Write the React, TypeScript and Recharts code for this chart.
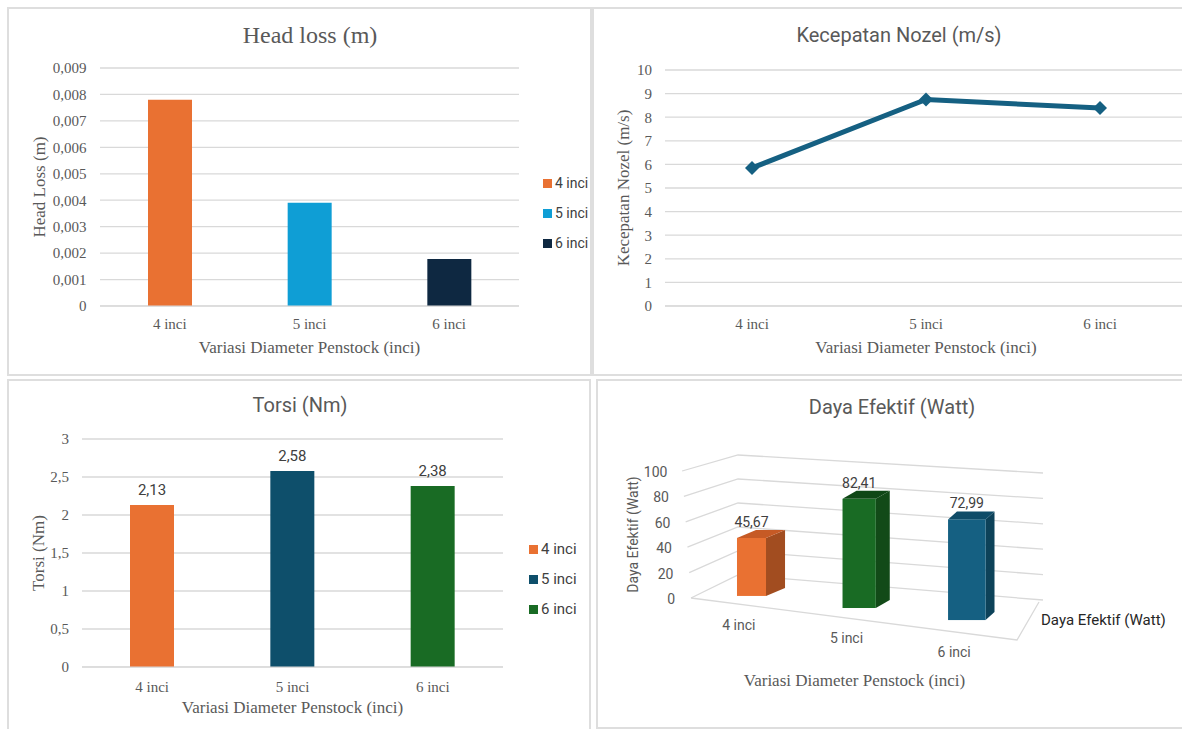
import React from "react";
import {
  BarChart,
  Bar,
  LineChart,
  Line,
  XAxis,
  YAxis,
  CartesianGrid,
  Cell,
  LabelList,
  Legend,
} from "recharts";

const categories = ["4 inci", "5 inci", "6 inci"];

const headLoss = [0.0078, 0.0039, 0.00178];
const headLossTicks = [0, 0.001, 0.002, 0.003, 0.004, 0.005, 0.006, 0.007, 0.008, 0.009];

const kecepatan = [5.85, 8.75, 8.39];
const kecepatanTicks = [0, 1, 2, 3, 4, 5, 6, 7, 8, 9, 10];

const torsi = [2.13, 2.58, 2.38];
const torsiTicks = [0, 0.5, 1, 1.5, 2, 2.5, 3];

const daya = [45.67, 82.41, 72.99];
const dayaTicks = [0, 20, 40, 60, 80, 100];

const headLossColors = ["#E97132", "#0F9ED5", "#0E2841"];
const torsiColors = ["#E97132", "#0E4F6B", "#196B24"];
const dayaFront = ["#E97132", "#196B24", "#156082"];
const dayaSide = ["#A24D20", "#124A18", "#0D4259"];
const dayaTop = ["#C65A25", "#0F4716", "#0F4C68"];

const SERIF = '"Liberation Serif", "Times New Roman", serif';
const SANS = 'Roboto, "Liberation Sans", sans-serif';
const GRAY = "#595959";
const GRID = "#D9D9D9";

const comma = (v: number) => String(v).replace(".", ",");

const headLossData = categories.map((name, i) => ({ name, value: headLoss[i] }));
const kecepatanData = categories.map((name, i) => ({ name, value: kecepatan[i] }));
const torsiData = categories.map((name, i) => ({ name, value: torsi[i] }));
const dayaData = categories.map((name, i) => ({ name, value: daya[i] }));

function Title({ text, x, y, font, size }: { text: string; x: number; y: number; font: string; size: number }) {
  return (
    <div
      style={{
        position: "absolute",
        left: x,
        top: y,
        transform: "translate(-50%, -50%)",
        fontFamily: font,
        fontSize: size,
        color: GRAY,
        whiteSpace: "nowrap",
      }}
    >
      {text}
    </div>
  );
}

const yTitle = (text: string, cx: number, font: string, size: number) => (props: any) => {
  const vb = props.viewBox || { x: 0, y: 0, width: 0, height: 0 };
  const cy = vb.y + vb.height / 2;
  return (
    <text
      x={cx}
      y={cy}
      transform={`rotate(-90 ${cx} ${cy})`}
      textAnchor="middle"
      dominantBaseline="central"
      fontFamily={font}
      fontSize={size}
      fill={GRAY}
    >
      {text}
    </text>
  );
};

const xTitle = (text: string, dy: number, dx = 0) => (props: any) => {
  const vb = props.viewBox || { x: 0, y: 0, width: 0, height: 0 };
  return (
    <text
      x={vb.x + vb.width / 2 + dx}
      y={vb.y + dy}
      textAnchor="middle"
      dominantBaseline="central"
      fontFamily={SERIF}
      fontSize={17}
      fill={GRAY}
    >
      {text}
    </text>
  );
};

const categoryLegend = (colors: string[], size = 15) => () => (
  <div style={{ fontFamily: SANS, fontSize: size, color: "#404040", whiteSpace: "nowrap" }}>
    {categories.map((c, i) => (
      <div key={c} style={{ display: "flex", alignItems: "center", height: 30 }}>
        <span style={{ display: "inline-block", width: 9, height: 9, background: colors[i], marginRight: 3 }} />
        {c}
      </div>
    ))}
  </div>
);

function Diamond(p: any) {
  const { cx, cy } = p;
  return (
    <path
      key={p.index}
      d={`M${cx},${cy - 7} L${cx + 7},${cy} L${cx},${cy + 7} L${cx - 7},${cy} Z`}
      fill="#156082"
    />
  );
}

// 3D look for the Daya Efektif panel
const D_BOTTOM = 219;
const D_X0 = 156;

function Box3D(props: any) {
  const { x, width, height, index, payload } = props;
  const xc = x + width / 2;
  const k = xc - D_X0;
  const w = width * (0.88 + 0.0012 * k);
  const h = height * (1 + 0.0004 * k);
  const yb = D_BOTTOM - 2 + 0.112 * k;
  const yt = yb - h;
  const dx = 19 - 0.047 * k;
  const dy = 8;
  const xl = xc - w / 2;
  const xr = xc + w / 2;
  return (
    <g>
      <polygon points={`${xr},${yt} ${xr + dx},${yt - dy} ${xr + dx},${yb - dy} ${xr},${yb}`} fill={dayaSide[index]} />
      <polygon points={`${xl},${yt} ${xl + dx},${yt - dy} ${xr + dx},${yt - dy} ${xr},${yt}`} fill={dayaTop[index]} />
      <rect x={xl} y={yt} width={w} height={h} fill={dayaFront[index]} />
      <text
        x={xc}
        y={yt - 16}
        textAnchor="middle"
        dominantBaseline="central"
        fontFamily={SANS}
        fontSize={14}
        fill="#404040"
      >
        {comma(payload.value)}
      </text>
    </g>
  );
}

function perspectiveLine(p: any) {
  const { x1, x2, y1 } = p;
  const h = D_BOTTOM - y1;
  const fx = x1 - 7 - 0.07 * h;
  const cx = x1 + 40;
  const cy = y1 - 23 + 0.055 * h;
  const bx = x2 + 22;
  const by = y1 + 2;
  let d = `M${fx},${y1} L${cx},${cy} L${bx},${by}`;
  if (h < 0.5) d += ` M${fx},${y1} L${x2 - 4},${y1 + 42} L${x2 + 18},${y1 + 4}`;
  return <path key={`g-${y1}`} d={d} stroke={GRID} strokeWidth={1.3} fill="none" />;
}

function DayaXTick(p: any) {
  const k = p.x - D_X0;
  return (
    <text
      x={p.x - 13}
      y={D_BOTTOM + 27 + 0.125 * k}
      textAnchor="middle"
      dominantBaseline="central"
      fontFamily={SANS}
      fontSize={14}
      fill={GRAY}
    >
      {p.payload.value}
    </text>
  );
}

function DayaYTick(p: any) {
  const h = D_BOTTOM - p.y;
  return (
    <text
      x={79 - 0.06 * h}
      y={p.y + 1}
      textAnchor="end"
      dominantBaseline="central"
      fontFamily={SANS}
      fontSize={14}
      fill={GRAY}
    >
      {p.payload.value}
    </text>
  );
}

const panel = (left: number, top: number, width: number, height: number): React.CSSProperties => ({
  position: "absolute",
  left,
  top,
  width,
  height,
  overflow: "hidden",
  boxShadow: "inset 0 0 0 2px #DEDEDE",
});

const serifTick = { fontSize: 15, fill: GRAY, fontFamily: SERIF };

export default function App() {
  return (
    <div style={{ position: "absolute", left: 0, top: 0, width: 1182, height: 729, overflow: "hidden", background: "#fff" }}>
      {/* Head loss */}
      <div style={panel(7, 7, 585, 369)}>
        <BarChart width={585} height={369} data={headLossData} margin={{ top: 61, right: 73, bottom: 10, left: 0 }}>
          <CartesianGrid vertical={false} stroke={GRID} strokeWidth={1.3} />
          <XAxis
            dataKey="name"
            height={60}
            axisLine={{ stroke: GRID }}
            tickLine={false}
            tickMargin={6}
            tick={serifTick}
            label={xTitle("Variasi Diameter Penstock (inci)", 41)}
          />
          <YAxis
            width={93}
            domain={[0, 0.009]}
            ticks={headLossTicks}
            axisLine={false}
            tickLine={false}
            tickMargin={7.5}
            tick={serifTick}
            tickFormatter={(v: number) => (v === 0 ? "0" : v.toFixed(3).replace(".", ","))}
            label={yTitle("Head Loss (m)", 32, SERIF, 17)}
          />
          <Legend
            layout="vertical"
            align="center"
            verticalAlign="middle"
            wrapperStyle={{ left: 536, top: 161, width: 46 }}
            content={categoryLegend(headLossColors, 14)}
          />
          <Bar dataKey="value" barSize={44} isAnimationActive={false}>
            {headLossData.map((d, i) => (
              <Cell key={d.name} fill={headLossColors[i]} />
            ))}
          </Bar>
        </BarChart>
        <Title text="Head loss (m)" x={303} y={28} font={SERIF} size={24} />
      </div>

      {/* Kecepatan Nozel */}
      <div style={panel(592, 7, 600, 369)}>
        <LineChart width={600} height={369} data={kecepatanData} margin={{ top: 63, right: 5, bottom: 10, left: 0 }}>
          <CartesianGrid vertical={false} stroke={GRID} strokeWidth={1.3} />
          <XAxis
            dataKey="name"
            height={60}
            padding={{ left: 87, right: 87 }}
            axisLine={{ stroke: GRID }}
            tickLine={false}
            tickMargin={6}
            tick={serifTick}
            label={xTitle("Variasi Diameter Penstock (inci)", 41)}
          />
          <YAxis
            width={73}
            domain={[0, 10]}
            ticks={kecepatanTicks}
            axisLine={false}
            tickLine={false}
            tickMargin={7}
            tick={serifTick}
            label={yTitle("Kecepatan Nozel (m/s)", 31, SERIF, 17)}
          />
          <Line
            type="linear"
            dataKey="value"
            stroke="#156082"
            strokeWidth={5}
            dot={Diamond}
            activeDot={false}
            isAnimationActive={false}
          />
        </LineChart>
        <Title text="Kecepatan Nozel (m/s)" x={307} y={28} font={SANS} size={20} />
      </div>

      {/* Torsi */}
      <div style={panel(7, 379, 584, 360)}>
        <BarChart width={584} height={350} data={torsiData} margin={{ top: 60, right: 88, bottom: 10, left: 0 }}>
          <CartesianGrid vertical={false} stroke={GRID} strokeWidth={1.3} />
          <XAxis
            dataKey="name"
            height={52}
            axisLine={{ stroke: GRID }}
            tickLine={false}
            tickMargin={8}
            tick={serifTick}
            label={xTitle("Variasi Diameter Penstock (inci)", 40)}
          />
          <YAxis
            width={75}
            domain={[0, 3]}
            ticks={torsiTicks}
            axisLine={false}
            tickLine={false}
            tickMargin={7}
            tick={serifTick}
            tickFormatter={comma}
            label={yTitle("Torsi (Nm)", 31, SERIF, 17)}
          />
          <Legend
            layout="vertical"
            align="center"
            verticalAlign="middle"
            wrapperStyle={{ left: 522, top: 155, width: 70 }}
            content={categoryLegend(torsiColors)}
          />
          <Bar dataKey="value" barSize={44} isAnimationActive={false}>
            {torsiData.map((d, i) => (
              <Cell key={d.name} fill={torsiColors[i]} />
            ))}
            <LabelList
              dataKey="value"
              position="top"
              offset={10}
              formatter={(v: any) => comma(Number(v))}
              fill="#404040"
              fontSize={15}
              fontFamily={SANS}
            />
          </Bar>
        </BarChart>
        <Title text="Torsi (Nm)" x={293} y={26} font={SANS} size={20} />
      </div>

      {/* Daya Efektif */}
      <div style={panel(596, 379, 600, 350)}>
        <BarChart width={586} height={349} data={dayaData} margin={{ top: 92, right: 161, bottom: 30, left: 0 }}>
          <CartesianGrid vertical={false} horizontal={perspectiveLine} />
          <XAxis
            dataKey="name"
            height={100}
            axisLine={false}
            tickLine={false}
            tick={DayaXTick}
            label={xTitle("Variasi Diameter Penstock (inci)", 82, -5)}
          />
          <YAxis
            width={102}
            domain={[0, 100]}
            ticks={dayaTicks}
            axisLine={false}
            tickLine={false}
            tick={DayaYTick}
            label={yTitle("Daya Efektif (Watt)", 37, SANS, 14)}
          />
          <Legend
            layout="vertical"
            align="center"
            verticalAlign="middle"
            wrapperStyle={{ left: 445, top: 231, width: 140 }}
            content={(p: any) => (
              <div style={{ fontFamily: '"Liberation Sans Narrow", Roboto, sans-serif', fontSize: 15, color: "#262626", whiteSpace: "nowrap", lineHeight: "20px" }}>
                {p.payload && p.payload[0] ? p.payload[0].value : ""}
              </div>
            )}
          />
          <Bar dataKey="value" name="Daya Efektif (Watt)" barSize={33} shape={Box3D} isAnimationActive={false} />
        </BarChart>
        <Title text="Daya Efektif (Watt)" x={296} y={28} font={SANS} size={20} />
      </div>
    </div>
  );
}
